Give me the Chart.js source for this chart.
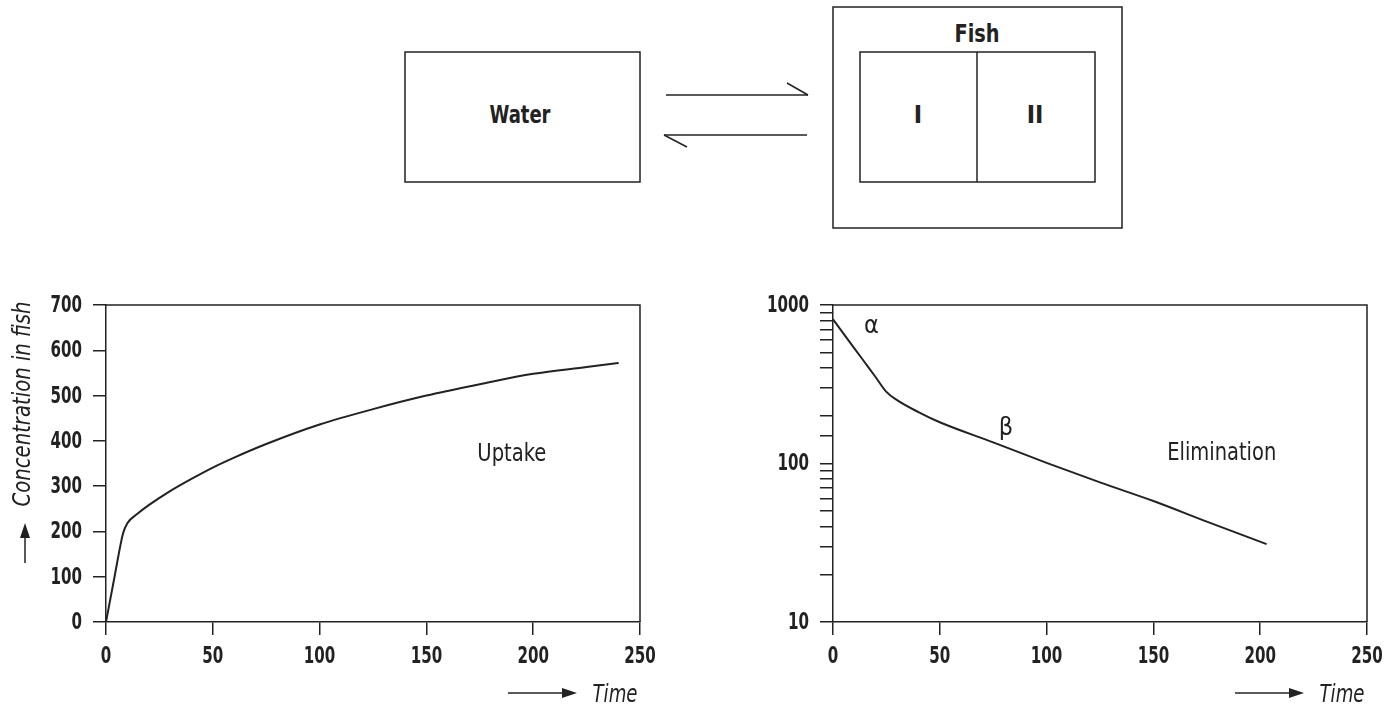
<!DOCTYPE html>
<html>
<head>
<meta charset="utf-8">
<script src="https://cdn.jsdelivr.net/npm/chart.js@4.4.1/dist/chart.umd.min.js"></script>
<style>
    html, body { margin: 0; padding: 0; background: #fff; }
    body { width: 1387px; height: 707px; position: relative; overflow: hidden; }
    .box { position: absolute; }
    svg text { font-family: 'Liberation Sans Narrow', 'DejaVu Sans Condensed', sans-serif; fill: #222; }
</style>
</head>
<body>

<svg class="box" style="left:0;top:0" width="1387" height="240">
    <g stroke="#222" stroke-width="1.5" fill="none">
        <rect x="405" y="52" width="235" height="130"/>
        <rect x="833" y="7" width="289" height="221"/>
        <rect x="860" y="52" width="235" height="130"/>
        <line x1="977" y1="52" x2="977" y2="182"/>
        <line x1="666" y1="95" x2="808" y2="95"/>
        <line x1="808" y1="95" x2="787" y2="83"/>
        <line x1="664" y1="135" x2="807" y2="135"/>
        <line x1="664" y1="135" x2="687" y2="147"/>
    </g>
    <text x="520" y="123" text-anchor="middle" font-size="25" font-weight="bold" textLength="61" lengthAdjust="spacingAndGlyphs">Water</text>
    <text x="977" y="42" text-anchor="middle" font-size="25" font-weight="bold" textLength="45" lengthAdjust="spacingAndGlyphs">Fish</text>
    <text x="918" y="123" text-anchor="middle" font-size="25" font-weight="bold">I</text>
    <text x="1035" y="123" text-anchor="middle" font-size="25" font-weight="bold">II</text>
</svg>

<div class="box" style="left:0;top:290px;width:660px;height:417px"><canvas id="uptakeChart"></canvas></div>
<div class="box" style="left:740px;top:290px;width:647px;height:417px"><canvas id="elimChart"></canvas></div>

<script>
    const FONT = "'Liberation Sans Narrow', 'DejaVu Sans Condensed', sans-serif";
    const INK = '#222';

    // uptake curve
    const uptakeTime = [0, 4, 8, 10, 15, 20, 30, 40, 50, 60, 75, 100, 125, 150, 175, 200, 225, 240];
    const uptakeConc = [0, 100, 196, 218, 240, 258, 289, 316, 341, 363, 393, 436, 470, 500, 525, 548, 563, 572];

    // elimination curve (log axis)
    const elimTime = [0, 5, 10, 15, 20, 25, 30, 40, 50, 75, 100, 125, 150, 175, 203];
    const elimConc = [812, 658, 533, 432, 350, 283, 251, 211, 182, 136, 101, 76, 58, 43, 31];

    const xTicks = [0, 50, 100, 150, 200, 250];
    const uptakeYTicks = [0, 100, 200, 300, 400, 500, 600, 700];
    const elimYLabels = [10, 100, 1000];

    // text written inside the plots, placed in data units
    const uptakeNotes = [{text: 'Uptake', x: 190, y: 369}];
    const elimNotes = [
        {text: 'α', x: 18, y: 727},
        {text: 'β', x: 81, y: 167},
        {text: 'Elimination', x: 182, y: 116}
    ];
    // printed width of each label, to mimic the condensed face
    const textWidths = {'Uptake': 69, 'Elimination': 109, 'Time': 45, 'Concentration in fish': 205};
    const digitWidth = 10.5;

    function arrow(ctx, x1, y1, x2, y2) {
        const ang = Math.atan2(y2 - y1, x2 - x1);
        const len = 15, half = 5;
        const c = Math.cos(ang), s = Math.sin(ang);
        ctx.beginPath();
        ctx.moveTo(x1, y1);
        ctx.lineTo(x2 - c * len, y2 - s * len);
        ctx.stroke();
        ctx.beginPath();
        ctx.moveTo(x2, y2);
        ctx.lineTo(x2 - c * len - s * half, y2 - s * len + c * half);
        ctx.lineTo(x2 - c * len + s * half, y2 - s * len - c * half);
        ctx.closePath();
        ctx.fill();
    }

    // draws text squeezed to a given width, centred on x
    function fitText(ctx, text, x, y, target) {
        target = target || textWidths[text];
        const w = ctx.measureText(text).width;
        ctx.save();
        ctx.translate(x, y);
        if (target) ctx.scale(target / w, 1);
        ctx.textAlign = 'center';
        ctx.textBaseline = 'middle';
        ctx.fillText(text, 0, 0);
        ctx.restore();
    }

    const decoPlugin = {
        id: 'deco',
        afterDraw(chart, args, opts) {
            const {ctx, chartArea: a, scales} = chart;
            ctx.save();
            ctx.strokeStyle = INK;
            ctx.fillStyle = INK;
            ctx.lineWidth = 1.5;
            // top and right edges of the frame
            ctx.beginPath();
            ctx.moveTo(a.left, a.top);
            ctx.lineTo(a.right, a.top);
            ctx.lineTo(a.right, a.bottom);
            ctx.stroke();

            // tick labels
            ctx.font = 'bold 23px ' + FONT;
            xTicks.forEach(v => {
                const s = String(v);
                fitText(ctx, s, scales.x.getPixelForValue(v), a.bottom + 35, s.length * digitWidth);
            });
            opts.yLabels.forEach(v => {
                const s = String(v);
                const w = s.length * digitWidth;
                fitText(ctx, s, a.left - 24 - w / 2, scales.y.getPixelForValue(v) + 1, w);
            });

            ctx.font = '25px ' + FONT;
            opts.notes.forEach(n => {
                fitText(ctx, n.text, scales.x.getPixelForValue(n.x), scales.y.getPixelForValue(n.y));
            });

            // "Time" with arrow
            arrow(ctx, a.right - 132, a.bottom + 71, a.right - 63, a.bottom + 71);
            ctx.font = 'italic 24px ' + FONT;
            fitText(ctx, 'Time', a.right - 25, a.bottom + 74);

            if (opts.yTitle) {
                ctx.save();
                ctx.translate(23, 114);
                ctx.rotate(-Math.PI / 2);
                ctx.font = 'italic 25px ' + FONT;
                fitText(ctx, opts.yTitle, 0, 0);
                ctx.restore();
                arrow(ctx, 25, 273, 25, 233);
            }
            ctx.restore();
        }
    };

    function xAxis() {
        return {
            type: 'linear', min: 0, max: 250,
            border: {display: true, color: INK, width: 1.5},
            grid: {drawOnChartArea: false, drawTicks: true, tickLength: 13, color: INK, lineWidth: 1.5},
            afterBuildTicks: s => { s.ticks = xTicks.map(v => ({value: v})); },
            afterFit: s => { s.height = 85; s.paddingLeft = 0; s.paddingRight = 0; },
            ticks: {display: false}
        };
    }

    function yAxis(extra, width) {
        return Object.assign({
            border: {display: true, color: INK, width: 1.5},
            grid: {drawOnChartArea: false, drawTicks: true, tickLength: 13, color: INK, lineWidth: 1.5},
            afterFit: s => { s.width = width; s.paddingTop = 0; s.paddingBottom = 0; }
        }, extra);
    }

    const baseOptions = {
        responsive: true,
        maintainAspectRatio: false,
        animation: false,
        layout: {padding: {top: 15, right: 20, left: 0, bottom: 0}}
    };

    new Chart(document.getElementById('uptakeChart'), {
        type: 'line',
        data: {
            datasets: [{
                data: uptakeTime.map((t, i) => ({x: t, y: uptakeConc[i]})),
                borderColor: INK,
                borderWidth: 2,
                pointRadius: 0,
                cubicInterpolationMode: 'monotone'
            }]
        },
        options: Object.assign({}, baseOptions, {
            plugins: {
                legend: {display: false},
                tooltip: {enabled: false},
                deco: {notes: uptakeNotes, yLabels: uptakeYTicks, yTitle: 'Concentration in fish'}
            },
            scales: {
                x: xAxis(),
                y: yAxis({
                    type: 'linear', min: 0, max: 700,
                    afterBuildTicks: s => { s.ticks = uptakeYTicks.map(v => ({value: v})); },
                    ticks: {display: false}
                }, 106)
            }
        }),
        plugins: [decoPlugin]
    });

    new Chart(document.getElementById('elimChart'), {
        type: 'line',
        data: {
            datasets: [{
                data: elimTime.map((t, i) => ({x: t, y: elimConc[i]})),
                borderColor: INK,
                borderWidth: 2,
                pointRadius: 0,
                cubicInterpolationMode: 'monotone'
            }]
        },
        options: Object.assign({}, baseOptions, {
            plugins: {
                legend: {display: false},
                tooltip: {enabled: false},
                deco: {notes: elimNotes, yLabels: elimYLabels}
            },
            scales: {
                x: xAxis(),
                y: yAxis({
                    type: 'logarithmic', min: 10, max: 1000,
                    ticks: {display: false, autoSkip: false}
                }, 93)
            }
        }),
        plugins: [decoPlugin]
    });
</script>
</body>
</html>
